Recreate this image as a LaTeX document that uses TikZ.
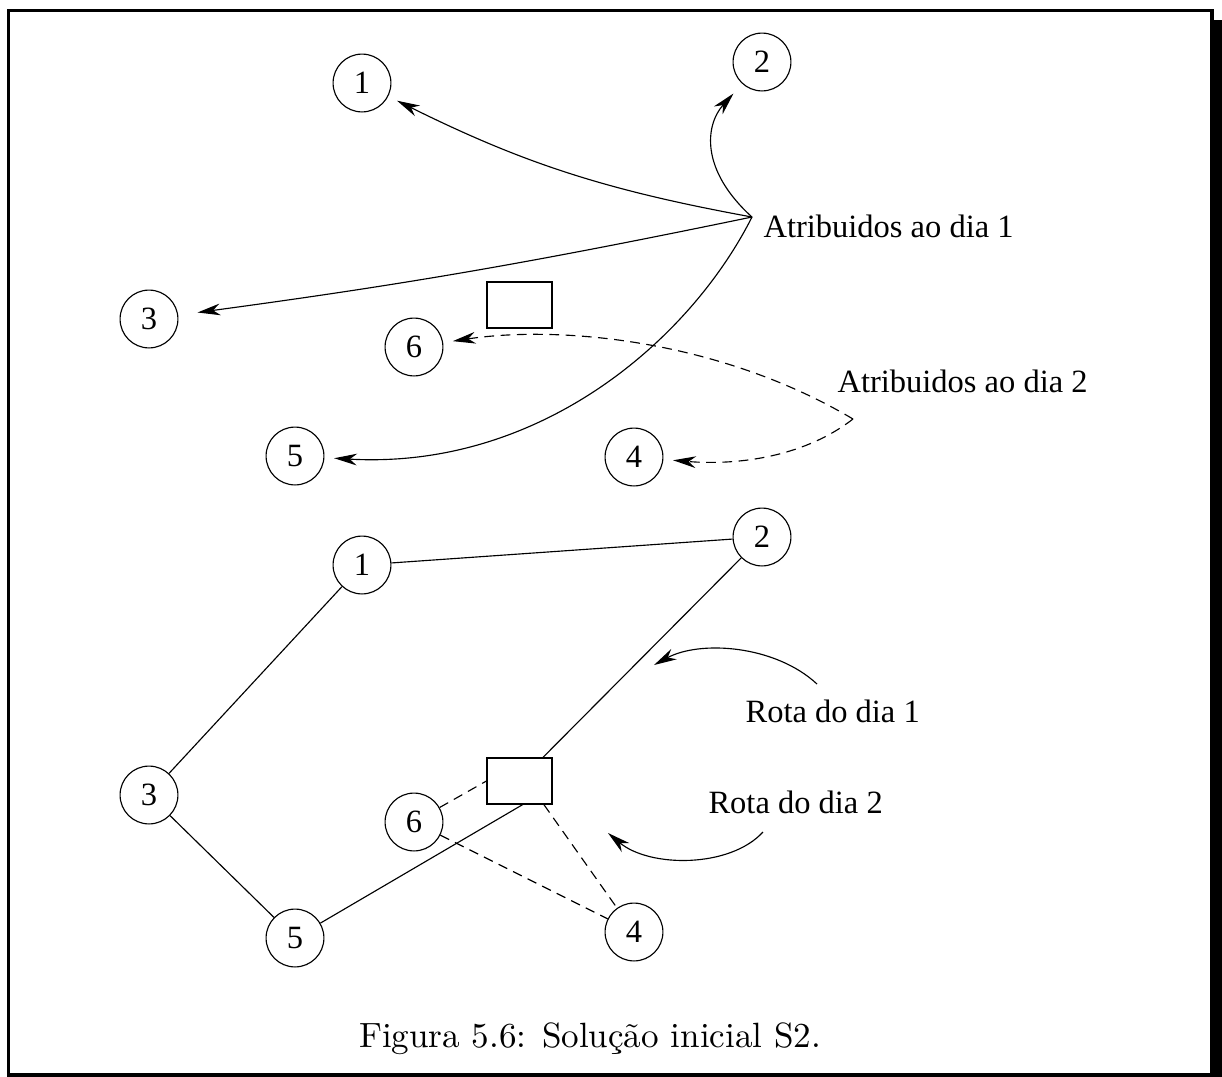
\documentclass[tikz,border=0pt]{standalone}
\usepackage{fontspec}
\newfontfamily\tms{Liberation Serif}
\usetikzlibrary{arrows.meta}

\tikzset{
  cli/.style={circle,draw,minimum size=17.8pt,inner sep=0pt,font=\tms},
  depot/.style={draw,minimum width=20pt,minimum height=14.15pt,inner sep=0pt},
  arr/.style={-{Stealth[length=7pt,width=3.6pt,inset=2.2pt]},shorten >=3pt},
  dsh/.style={dash pattern=on 3pt off 2pt},
  lbl/.style={font=\tms,anchor=base west,inner sep=0pt}
}

\begin{document}
\begin{tikzpicture}[x=0.3077pt,y=-0.3077pt,line width=0.35pt]
    \useasboundingbox (0,0) rectangle (1222,1077);
    % frame and shadow
    \fill (1212,20) rectangle (1230,1090);
    \draw[line width=0.95pt] (8.5,10.5) rectangle (1212,1075);

    % days the customers are given to
    \node[cli](a1) at (362,83)  {1};
    \node[cli](a2) at (762,62)  {2};
    \node[cli](a3) at (149,319) {3};
    \node[cli](a4) at (634,457) {4};
    \node[cli](a5) at (295,456) {5};
    \node[cli](a6) at (414,347) {6};
    \node[depot](da) at (519.5,305) {};
    \coordinate (h1) at (752,217);
    \coordinate (h2) at (853,419);
    \node[lbl](t1) at (763,237) {Atribuidos ao dia 1};
    \node[lbl](t2) at (837,392) {Atribuidos ao dia 2};
    \path[arr]
        (h1) edge [bend left=8] (a1)
             edge [bend left=2, shorten >=6pt] (a3);
    \draw[arr, shorten >=4pt] (h1) .. controls (700,170) and (705,125) .. (a2);
    \draw[arr] (h1) .. controls (690,340) and (540,470) .. (a5);
    \draw[arr,dsh] (h2) .. controls (720,340) and (560,325) .. (a6);
    \draw[arr,dsh] (h2) .. controls (800,460) and (730,465) .. (a4);

    % routes
    \node[cli](b1) at (362,565) {1};
    \node[cli](b2) at (762,537) {2};
    \node[cli](b3) at (149,795) {3};
    \node[cli](b4) at (634,932) {4};
    \node[cli](b5) at (295,938) {5};
    \node[cli](b6) at (414,822) {6};
    \node[depot](db) at (519.5,781) {};
    \path
        (b1) edge (b2)
             edge (b3)
        (b3) edge (b5)
        (b5) edge ([xshift=1pt]db.south)
        ([xshift=7.2pt]db.north) edge (b2)
        (b6) edge [dsh] (db.west)
             edge [dsh] (b4)
        ([xshift=7.5pt]db.south) edge [dsh] (b4);
    \node[lbl](r1) at (745,722) {Rota do dia 1};
    \node[lbl](r2) at (708,813) {Rota do dia 2};
    \coordinate (r1s) at (817,684);
    \coordinate (r1e) at (654,665);
    \coordinate (r2s) at (763,832);
    \coordinate (r2e) at (608,833);
    \draw[arr, shorten >=0pt] (r1s) .. controls (775,645) and (700,640) .. (r1e);
    \draw[arr, shorten >=0pt] (r2s) .. controls (730,868) and (650,868) .. (r2e);

    \node[anchor=base,font=\fontsize{10.8}{13}\selectfont](cap) at (590,1047) {Figura 5.6: Solução inicial S2.};
\end{tikzpicture}
\end{document}
